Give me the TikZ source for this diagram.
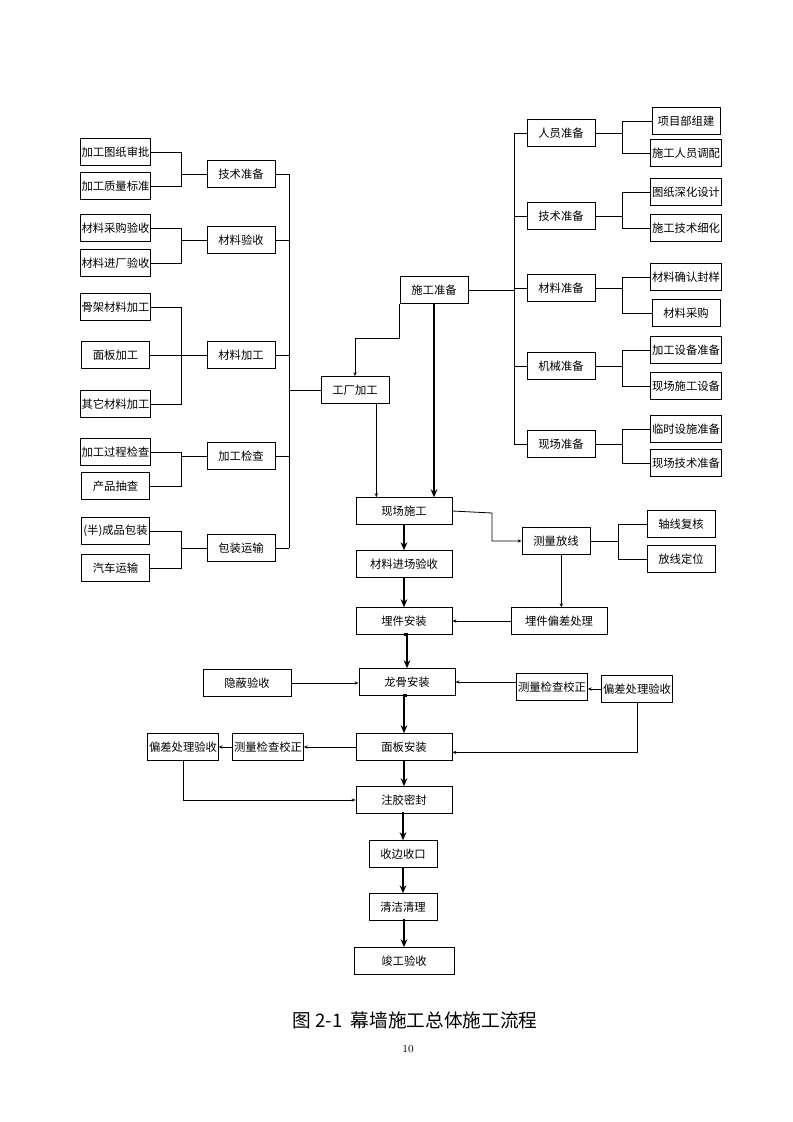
\documentclass[tikz,border=0pt]{standalone}
\usepackage{fontspec}
\newfontfamily\cjk{Noto Sans CJK SC}
\usetikzlibrary{arrows.meta}
\begin{document}
\begin{tikzpicture}[x=0.75pt,y=-0.75pt,
    box/.style={draw, line width=0.6pt, minimum height=20pt, inner sep=1pt, font=\cjk\fontsize{8.5}{9}\selectfont},
    leaf/.style={box, minimum width=51pt},
    mid/.style={box, minimum width=51pt},
    main/.style={box, minimum width=72pt},
    link/.style={line width=0.6pt},
    flow/.style={line width=0.6pt, -{Stealth[open,length=3pt,width=2.5pt]}},
    thick flow/.style={line width=2pt, -{Stealth[length=6pt,width=5pt]}}]
\useasboundingbox (0,0) rectangle (793,1122);
% left side
\node[leaf] (l1) at (115.5,152) {加工图纸审批};
\node[leaf] (l2) at (115.5,186) {加工质量标准};
\node[leaf] (l3) at (115.5,228) {材料采购验收};
\node[leaf] (l4) at (115.5,263) {材料进厂验收};
\node[leaf] (l5) at (115.5,307) {骨架材料加工};
\node[leaf] (l6) at (115.5,355) {面板加工};
\node[leaf] (l7) at (115.5,404) {其它材料加工};
\node[leaf] (l8) at (115.5,452) {加工过程检查};
\node[leaf] (l9) at (115.5,486) {产品抽查};
\node[leaf] (l10) at (115.5,531) {(半)成品包装};
\node[leaf] (l11) at (115.5,568) {汽车运输};
\node[mid] (m1) at (241,174) {技术准备};
\node[mid] (m2) at (241,240) {材料验收};
\node[mid] (m3) at (241,355) {材料加工};
\node[mid] (m4) at (241,456) {加工检查};
\node[mid] (m5) at (241,548) {包装运输};
\foreach \a/\b/\m in {l1/l2/m1, l3/l4/m2, l5/l7/m3, l8/l9/m4, l10/l11/m5}{
  \draw[link] (\a.east) -- (181,0 |- \a.east) -- (181,0 |- \b.east) -- (\b.east);
  \draw[link] (181,0 |- \m.west) -- (\m.west);
}
\draw[link] (l6.east) -- (m3.west);
\foreach \m in {m1,m2,m3,m4,m5}
  \draw[link] (\m.east) -- (289,0 |- \m.east);
\draw[link] (289,174) -- (289,548);
\node[mid] (factory) at (355,390) {工厂加工};
\draw[link] (289,390) -- (factory.west);
% right side
\node[mid] (prep) at (434,290) {施工准备};
\node[mid] (r1) at (561,133) {人员准备};
\node[mid] (r2) at (561,216) {技术准备};
\node[mid] (r3) at (561,288) {材料准备};
\node[mid] (r4) at (561,366) {机械准备};
\node[mid] (r5) at (561,444) {现场准备};
\draw[link] (prep.east) -- (514,290);
\draw[link] (514,133) -- (514,444);
\foreach \m in {r1,r2,r3,r4,r5}
  \draw[link] (514,0 |- \m.west) -- (\m.west);
\node[leaf] (s1) at (686,121) {项目部组建};
\node[leaf] (s2) at (686,153) {施工人员调配};
\node[leaf] (s3) at (686,192) {图纸深化设计};
\node[leaf] (s4) at (686,228) {施工技术细化};
\node[leaf] (s5) at (686,277) {材料确认封样};
\node[leaf] (s6) at (686,313) {材料采购};
\node[leaf] (s7) at (686,350) {加工设备准备};
\node[leaf] (s8) at (686,386) {现场施工设备};
\node[leaf] (s9) at (686,429) {临时设施准备};
\node[leaf] (s10) at (686,463) {现场技术准备};
\foreach \m/\a/\b in {r1/s1/s2, r2/s3/s4, r3/s5/s6, r4/s7/s8, r5/s9/s10}{
  \draw[link] (\m.east) -- (622,0 |- \m.east);
  \draw[link] (\a.west) -- (622,0 |- \a.west) -- (622,0 |- \b.west) -- (\b.west);
}
% main flow
\node[main] (site) at (404,511) {现场施工};
\node[main] (n1) at (404,564) {材料进场验收};
\node[main] (n2) at (404,621) {埋件安装};
\node[main] (n3) at (407,682) {龙骨安装};
\node[main] (n4) at (404,747) {面板安装};
\node[main] (n5) at (404,800) {注胶密封};
\node[box, minimum width=51pt] (n6) at (403,854) {收边收口};
\node[box, minimum width=51pt] (n7) at (403,907) {清洁清理};
\node[main, minimum width=75pt] (n8) at (404,961) {竣工验收};
\draw[flow] ([xshift=-26pt]prep.south) -- ++(0,35) -| (factory.north);
\draw[thick flow] (prep.south) -- (prep.south |- site.north);
\draw[flow] ([xshift=16pt]factory.south) -- ([xshift=16pt]factory.south |- site.north);
\foreach \a/\b in {site/n1, n1/n2, n2/n3, n3/n4, n4/n5, n5/n6, n6/n7, n7/n8}
  \draw[thick flow] (\a.south) -- (\a.south -| \b.north) -- (\b.north);
% side checks
\node[mid] (survey) at (556,541) {测量放线};
\node[leaf] (t1) at (681,524) {轴线复核};
\node[leaf] (t2) at (681,559) {放线定位};
\draw[link] (survey.east) -- (618,541);
\draw[link] (t1.west) -- (618,524) -- (618,559) -- (t2.west);
\draw[flow] (site.east) -- (492,513) |- (survey.west);
\node[main] (dev) at (559,621) {埋件偏差处理};
\draw[flow] ([xshift=4pt]survey.south) -- ([xshift=4pt]survey.south |- dev.north);
\draw[flow] (dev.west) -- (n2.east);
\node[box, minimum width=66pt] (hide) at (247,683) {隐蔽验收};
\draw[flow] (hide.east) -- (hide.east -| n3.west);
\node[leaf, minimum width=52pt] (chkR) at (552,687) {测量检查校正};
\node[leaf] (devR) at (637,689) {偏差处理验收};
\draw[flow] (chkR.west |- n3.east) -- (n3.east);
\draw[flow] (devR.west) -- (devR.west -| chkR.east);
\draw[flow] (devR.south) |- ([yshift=-4pt]n4.east);
\node[leaf] (chkL) at (268,747) {测量检查校正};
\node[leaf] (devL) at (183,747) {偏差处理验收};
\draw[flow] (n4.west) -- (chkL.east);
\draw[flow] (chkL.west) -- (devL.east);
\draw[flow] (devL.south) |- (n5.west);
% caption
\node[font=\cjk\fontsize{14}{16}\selectfont] (cap) at (415,1020) {图 2-1 \ 幕墙施工总体施工流程};
\node[font=\fontsize{8}{9}\selectfont] (page) at (408,1049) {10};
\end{tikzpicture}
\end{document}
